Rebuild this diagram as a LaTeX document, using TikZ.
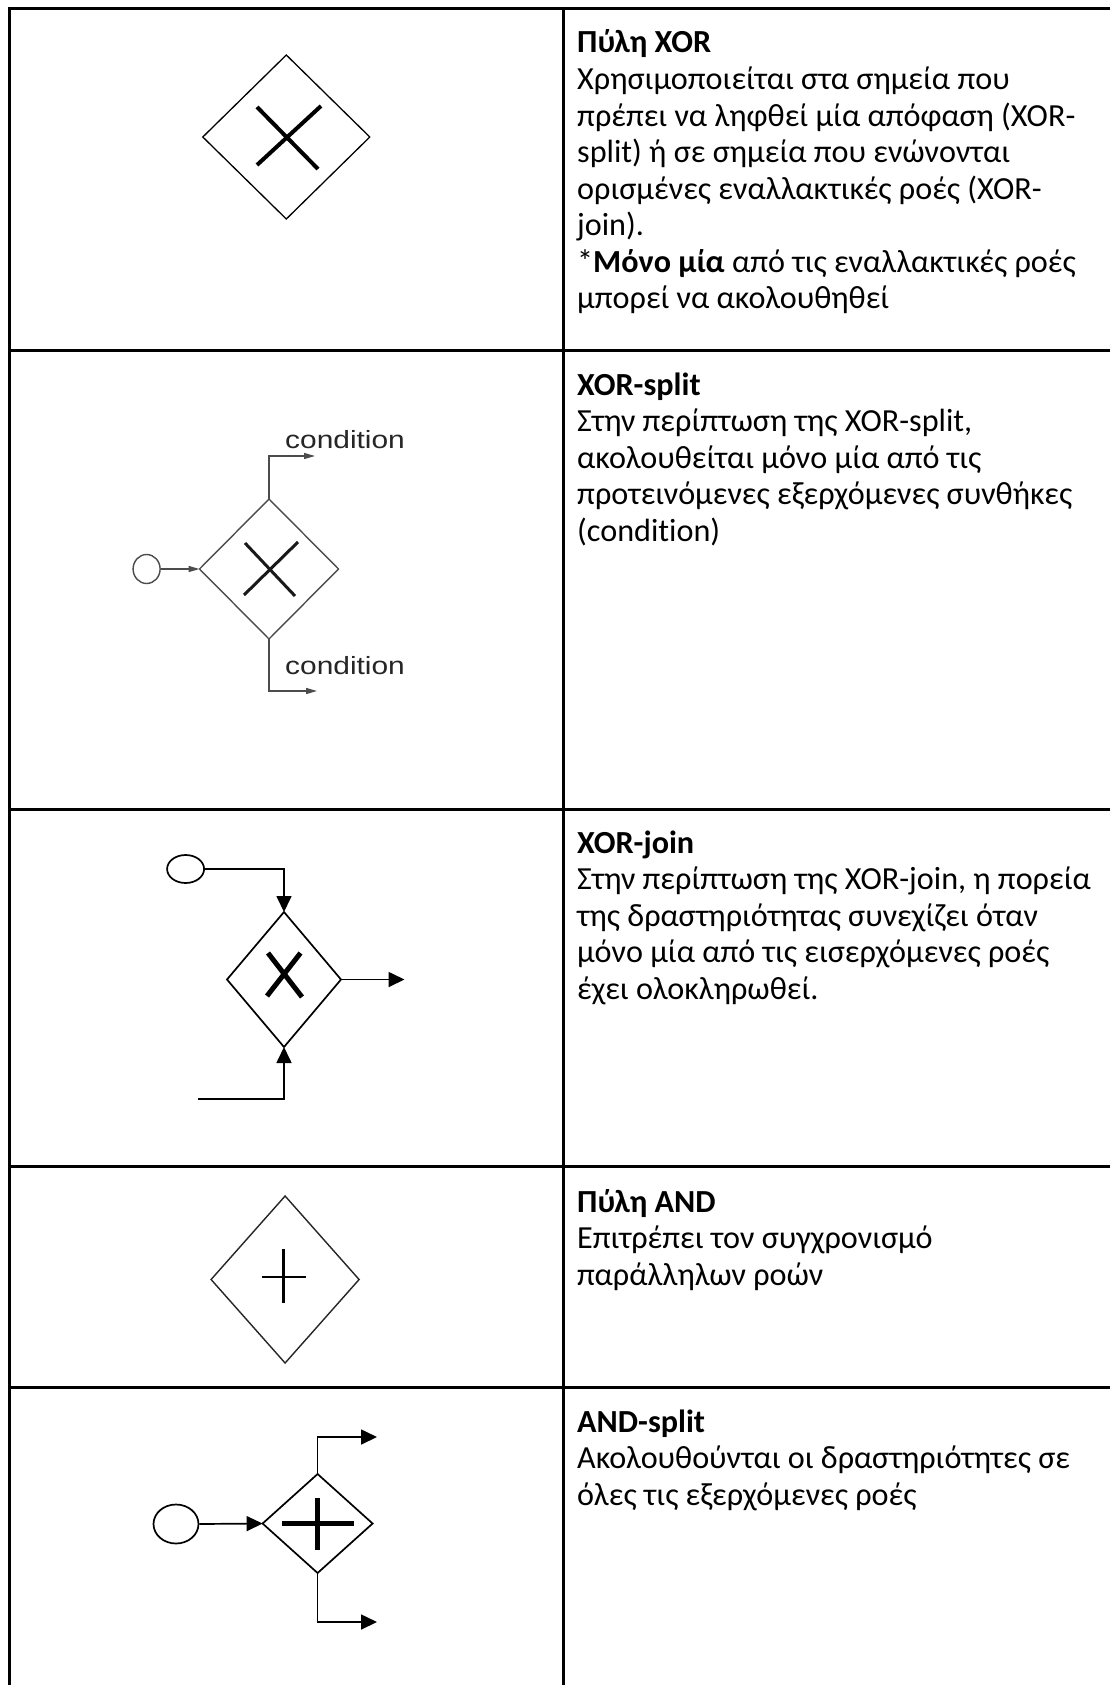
\documentclass[tikz,border=0pt]{standalone}
\usepackage{fontspec}
\setmainfont{Carlito}[Ligatures=CommonOff]
\newfontfamily\labelfont{Liberation Sans}[FakeStretch=1.2]
\usetikzlibrary{shapes.geometric,arrows.meta}

\tikzset{
  grid/.style={line width=2.8bp, black},
  desc/.style={anchor=base west, inner sep=0pt, font=\fontsize{32.3}{36.7}\selectfont},
  gate/.style={shape=diamond, draw, inner sep=0pt, outer sep=0pt},
  mark/.style={line width=#1, black},
  flow/.style={line width=1.7bp, black},
  bigtip/.style={-{Triangle[length=16bp,width=15bp]}},
  smalltip/.style={-{Triangle[length=11bp,width=6bp]}},
  greyline/.style={line width=1.4bp, draw=black!70},
  cond/.style={anchor=base west, inner sep=0pt, text=black!85, font=\labelfont\fontsize{25}{30}\selectfont},
}

\begin{document}
\begin{tikzpicture}[x=1bp, y=-1bp]
\useasboundingbox[fill=white] (0,0) rectangle (1110,1685);

% table frame
\draw[grid] (9.6,8.7) -- (1110,8.7);
\draw[grid] (9.6,7.3) -- (9.6,1685);
\draw[grid] (563.7,7.3) -- (563.7,1685);
\foreach \yy in {350.5, 809.7, 1166.3, 1387.3}
  \draw[grid] (9.6,\yy) -- (1110,\yy);

% ---------- XOR gateway ----------
\node[gate, line width=1.3bp, minimum width=167bp, minimum height=164bp] (d1) at (286.3,137) {};
\draw[mark=4bp] (257,107) -- (318,169);
\draw[mark=4bp] (321,106) -- (257,165);

\node[desc] (t1) at (577,53) {\parbox[t]{530bp}{\textbf{Πύλη XOR}\\
Χρησιμοποιείται στα σημεία που\\
πρέπει να ληφθεί μία απόφαση (XOR-\\
split) ή σε σημεία που ενώνονται\\
ορισμένες εναλλακτικές ροές (XOR-\\
join).\\
{*}\textbf{Μόνο μία} από τις εναλλακτικές ροές\\
μπορεί να ακολουθηθεί}};

% ---------- XOR-split ----------
\node[gate, greyline, minimum width=139bp, minimum height=140bp] (d2) at (269,569) {};
\draw[line width=3bp, black!90] (245,543) -- (295,596);
\draw[line width=3bp, black!90] (298,542) -- (244,595);
\node[ellipse, greyline, minimum width=27bp, minimum height=29bp, inner sep=0pt] (s2) at (146.6,569) {};
\coordinate (u2) at (315,456);
\coordinate (l2) at (317,691);
\draw[greyline, smalltip] (s2.east) -- (d2.west);
\draw[greyline, smalltip] (d2.north) |- (u2);
\draw[greyline, smalltip] (d2.south) |- (l2);
\node[cond] (c2a) at (285,448) {condition};
\node[cond] (c2b) at (285,674) {condition};

\node[desc] (t2) at (577,395) {\parbox[t]{530bp}{\textbf{XOR-split}\\
Στην περίπτωση της XOR-split,\\
ακολουθείται μόνο μία από τις\\
προτεινόμενες εξερχόμενες συνθήκες\\
(condition)}};

% ---------- XOR-join ----------
\node[gate, flow, minimum width=114bp, minimum height=135bp] (d3) at (284,979.5) {};
\draw[mark=5bp] (268,953) -- (302,997);
\draw[mark=5bp] (300.5,953) -- (267,996);
\node[ellipse, flow, draw, minimum width=37bp, minimum height=28bp, inner sep=0pt] (s3) at (185.6,869) {};
\coordinate (b3) at (198,1099);
\coordinate (o3) at (404.5,979.5);
\draw[flow, bigtip] (s3.east) -| (d3.north);
\draw[flow, bigtip] (b3) -| (d3.south);
\draw[flow, bigtip] (d3.east) -- (o3);

\node[desc] (t3) at (577,853) {\parbox[t]{530bp}{\textbf{XOR-join}\\
Στην περίπτωση της XOR-join, η πορεία\\
της δραστηριότητας συνεχίζει όταν\\
μόνο μία από τις εισερχόμενες ροές\\
έχει ολοκληρωθεί.}};

% ---------- AND gateway ----------
\node[gate, line width=1.4bp, draw=black!85, minimum width=148bp, minimum height=167bp] (d4) at (285.1,1279.5) {};
\draw[mark=2.4bp] (262,1277) -- (306,1277);
\draw[mark=2.4bp] (283.6,1249) -- (283.6,1303);

\node[desc] (t4) at (577,1212) {\parbox[t]{530bp}{\textbf{Πύλη AND}\\
Επιτρέπει τον συγχρονισμό\\
παράλληλων ροών}};

% ---------- AND-split ----------
\node[gate, flow, minimum width=110bp, minimum height=99bp] (d5) at (317.6,1523.5) {};
\draw[mark=5bp] (282.4,1523) -- (354,1523);
\draw[mark=5bp] (317.6,1498) -- (317.6,1550);
\node[ellipse, flow, draw, minimum width=45bp, minimum height=39bp, inner sep=0pt] (s5) at (176,1524) {};
\coordinate (u5) at (377,1437);
\coordinate (l5) at (377,1622);
\draw[flow, bigtip] (s5.east) -- (d5.west);
\draw[flow, bigtip] (d5.north) |- (u5);
\draw[flow, bigtip] (d5.south) |- (l5);

\node[desc] (t5) at (577,1432) {\parbox[t]{530bp}{\textbf{AND-split}\\
Ακολουθούνται οι δραστηριότητες σε\\
όλες τις εξερχόμενες ροές}};

\end{tikzpicture}
\end{document}
